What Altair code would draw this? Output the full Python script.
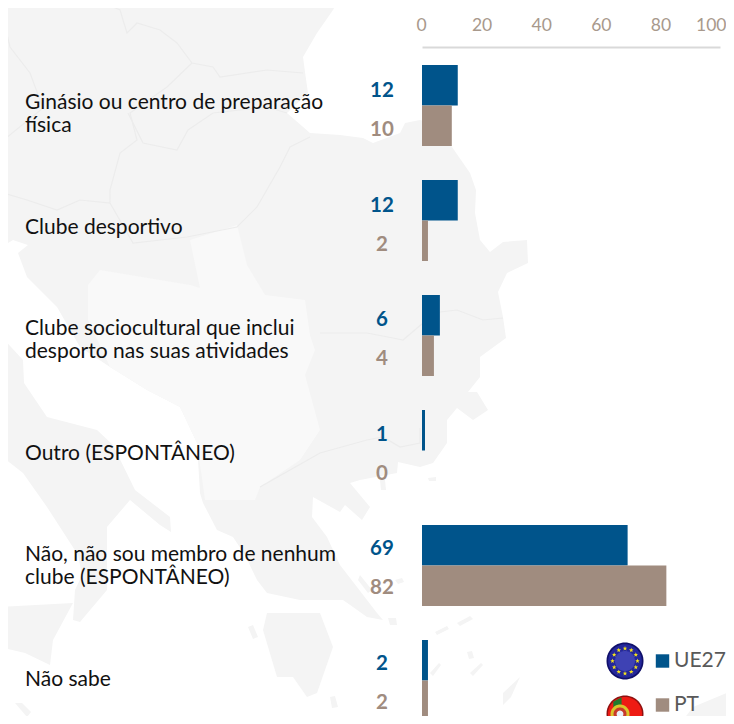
import math
import altair as alt

categories = ["Ginásio ou centro de preparação física", "Clube desportivo",
              "Clube sociocultural que inclui desporto nas suas atividades",
              "Outro (ESPONTÂNEO)", "Não, não sou membro de nenhum clube (ESPONTÂNEO)", "Não sabe"]
label_lines = [["Ginásio ou centro de preparação", "física"], ["Clube desportivo"],
               ["Clube sociocultural que inclui", "desporto nas suas atividades"],
               ["Outro (ESPONTÂNEO)"], ["Não, não sou membro de nenhum", "clube (ESPONTÂNEO)"], ["Não sabe"]]
ue27 = [12, 12, 6, 1, 69, 2]
pt = [10, 2, 4, 0, 82, 2]
series = ["UE27", "PT"]
ticks = [0, 20, 40, 60, 80, 100]

BLUE, TAUPE = "#00548B", "#A08C7F"

# decorative map, reference-page coordinates
land = [(0,0),(338,0),(333,10),(317,33),(303,57),(305,72),(308,93),(287,113),(310,133),(340,135),(363,138),(373,143),
        (400,133),(405,123),(420,120),(440,125),(452,147),(470,173),(476,190),(475,213),(480,240),(490,252),(503,242),
        (527,240),(528,263),(507,273),(498,292),(503,317),(506,338),(480,357),(480,377),(468,392),(477,392),(488,410),
        (473,420),(457,408),(447,420),(447,443),(433,463),(420,467),(398,462),(397,473),(360,480),(350,483),(370,507),
        (362,520),(345,505),(340,512),(313,497),(312,517),(327,537),(340,565),(357,587),(377,613),(383,620),(367,617),
        (353,607),(343,600),(300,600),(267,593),(257,580),(245,555),(233,537),(217,530),(203,503),(200,493),(197,443),
        (180,407),(147,390),(110,367),(80,347),(57,307),(27,277),(18,253),(28,245),(13,240),(0,248)]
italy = [(0,335),(23,360),(24,383),(47,417),(97,430),(113,445),(135,490),(170,517),(171,532),(160,525),(130,500),
         (107,527),(107,540),(107,590),(80,622),(73,620),(75,590),(82,575),(78,555),(47,507),(23,473),(0,455)]
sicily = [(0,607),(73,603),(53,640),(50,665),(25,653),(0,647)]
peloponnese = [(267,613),(320,613),(333,647),(317,693),(307,697),(293,677),(277,677),(263,630)]
anatolia = [(680,724),(693,707),(734,690),(734,724)]
islands = [[(248,627),(253,625),(258,637),(253,639)], [(15,703),(22,703),(31,712),(27,717)],
           [(330,697),(335,696),(338,707),(332,708)], [(520,677),(503,693),(503,705),(511,697)],
           [(457,623),(470,616),(473,619),(460,626)], [(435,632),(447,626),(449,629),(437,635)],
           [(430,673),(439,663),(441,665),(433,676)], [(470,673),(481,663),(483,665),(473,676)],
           [(467,652),(472,651),(474,658),(469,659)], [(388,618),(396,618),(397,625),(390,625)],
           [(380,480),(385,480),(386,490),(381,490)], [(428,478),(436,477),(436,481),(429,481)],
           [(395,580),(402,578),(404,582),(398,584)], [(360,575),(372,590),(368,593),(358,580)]]
light_states = [(190,240),(237,225),(247,265),(265,295),(305,300),(310,335),(315,350),(305,375),(320,430),(300,460),
                (260,487),(255,500),(205,500),(197,443),(180,407),(147,390),(110,367),(88,320),(88,285),(100,270),
                (190,285),(200,288)]
borders = [[(97,0),(120,10),(127,33),(137,23),(160,30),(177,43),(192,63),(213,67),(220,77),(267,70),(303,73)],
           [(192,63),(167,87),(130,113),(137,140),(120,153),(110,190),(110,203),(80,200),(57,210),(27,200),(0,192)],
           [(128,113),(143,143),(177,150),(188,130),(213,113),(267,107),(287,113)],
           [(310,137),(290,147),(280,167),(257,207),(237,227),(187,237),(133,243),(110,203)],
           [(320,333),(367,333),(393,338),(403,340),(423,323),(440,312),(457,310),(483,320),(503,318)],
           [(260,487),(320,453),(367,440),(383,437),(400,447),(420,443),(420,428)],
           [(3,17),(10,47),(30,73),(43,108),(0,143)]]


def ring(cx, cy, r, a0=0.0, a1=2 * math.pi, n=60):
    return [(cx + r * math.cos(a0 + (a1 - a0) * i / n), cy + r * math.sin(a0 + (a1 - a0) * i / n)) for i in range(n + 1)]


def star(cx, cy, r):
    return [(cx + (r if i % 2 == 0 else r * .42) * math.sin(i * math.pi / 5),
             cy - (r if i % 2 == 0 else r * .42) * math.cos(i * math.pi / 5)) for i in range(10)]


def clip_disc(poly, cx, cy, r):
    out = []
    for px, py in poly:
        d = math.hypot(px - cx, py - cy)
        out.append((px, py) if d <= r else (cx + (px - cx) * r / d, cy + (py - cy) * r / d))
    return out


def poly_layer(polys, fill):
    feats = [{"type": "Feature", "properties": {},
              "geometry": {"type": "Polygon", "coordinates": [[list(p) for p in (list(q) + [q[0]])]]}} for q in polys]
    return alt.Chart(alt.Data(values=feats)).mark_geoshape(fill=fill, stroke=None, strokeWidth=0, clip=False).project(
        type="identity", scale=1, translate=[-422, -47])


def line_layer(lines, color):
    feats = [{"type": "Feature", "properties": {},
              "geometry": {"type": "LineString", "coordinates": [list(p) for p in q]}} for q in lines]
    return alt.Chart(alt.Data(values=feats)).mark_geoshape(filled=False, stroke=color, strokeWidth=1.2, clip=False).project(
        type="identity", scale=1, translate=[-422, -47])


rows = [{"cat": c, "series": s, "value": v}
        for c, a, b in zip(categories, ue27, pt) for s, v in (("UE27", a), ("PT", b))]
label_rows = [{"cat": c, "lines": l} for c, l in zip(categories, label_lines)]
data = alt.Data(values=rows)

x = alt.X("value:Q", scale=alt.Scale(domain=[0, 100], nice=False), title=None,
          axis=alt.Axis(orient="top", values=ticks, grid=False, ticks=False, domainColor="#D9D9D9", domainWidth=2,
                        labelColor="#A8998C", labelFont="Lato", labelFontSize=17.5, labelPadding=13, labelFlush=True,
                        labelFlushOffset=6, labelBound=False, labelAngle=0))


def bar_layer(name, color, r0):
    return alt.Chart(data).transform_filter(alt.datum.series == name).mark_bar(color=color).encode(
        x=x,
        y=alt.Y("cat:N", sort=categories, axis=None, title=None,
                scale=alt.Scale(domain=categories, range=[r0, r0 + 615.5], paddingInner=0.6478, paddingOuter=0)),
    )


def value_text(name, color, r0):
    return alt.Chart(data).transform_filter(alt.datum.series == name).mark_text(
        font="Lato", fontSize=20.5, fontWeight="bold", color=color, align="center", baseline="middle", dx=-40
    ).encode(
        x=alt.datum(0),
        y=alt.Y("cat:N", sort=categories, axis=None, title=None,
                scale=alt.Scale(domain=categories, range=[r0, r0 + 687.6], paddingInner=0, paddingOuter=0)),
        text=alt.Text("value:Q"),
    )


def cat_text(test, dy):
    return alt.Chart(alt.Data(values=label_rows)).transform_filter(test).mark_text(
        font="Lato", fontSize=21, color="#111111", align="left", baseline="middle", dx=-397, dy=dy, lineHeight=23
    ).encode(
        x=alt.datum(0),
        y=alt.Y("cat:N", sort=categories, axis=None, title=None,
                scale=alt.Scale(domain=categories, range=[9.5, 687.5], paddingInner=0, paddingOuter=0)),
        text=alt.Text("lines:N"),
    )


def legend_text(label, px, py):
    return alt.Chart(alt.Data(values=[{"label": label}])).mark_text(
        font="Lato", fontSize=21, color="#595959", align="left", baseline="middle"
    ).encode(x=alt.value(px), y=alt.value(py), text=alt.Text("label:N"))


def legend_square(color, px, py):
    return alt.Chart(alt.Data(values=[{"label": color}])).mark_square(size=180, color=color, opacity=1).encode(
        x=alt.value(px), y=alt.value(py))


eu_c, pt_c = (625, 661), (625, 714)
flag_layers = [
    poly_layer([ring(*eu_c, 18.5)], "#10106A"),
    poly_layer([ring(*eu_c, 16.8)], "#24279B"),
    poly_layer([ring(*eu_c, 10)], "#3E42B4"),
    poly_layer([star(eu_c[0] + 12.5 * math.cos(i * math.pi / 6), eu_c[1] + 12.5 * math.sin(i * math.pi / 6), 2.4)
                for i in range(12)], "#F4E21E"),
    poly_layer([ring(*pt_c, 18.5)], "#8E1010"),
    poly_layer([ring(*pt_c, 17)], "#EE1B14"),
    poly_layer([clip_disc([(620, 690), (602, 690), (602, 740), (620, 740)], *pt_c, 17)], "#1F7A2E"),
    poly_layer([ring(620, 714, 9.5)], "#D9C52B"),
    poly_layer([ring(620, 714, 6.5)], "#C83A2A"),
    poly_layer([ring(620, 714, 3.4)], "#E8EEF5"),
]

chart = alt.layer(
    poly_layer([land, italy, sicily, peloponnese, anatolia] + islands, "#F4F4F4"),
    poly_layer([light_states], "#F9F9F9"),
    line_layer(borders, "#ECECEC"),
    bar_layer("UE27", BLUE, 18),
    bar_layer("PT", TAUPE, 58.5),
    value_text("UE27", BLUE, -13.3),
    value_text("PT", TAUPE, 25.7),
    cat_text("datum.lines.length > 1", -10.5),
    cat_text("datum.lines.length == 1", 2),
    *flag_layers,
    legend_square(BLUE, 240.5, 614),
    legend_square(TAUPE, 240.5, 658),
    legend_text("UE27", 252, 614),
    legend_text("PT", 252, 658),
).resolve_scale(y="independent").properties(
    width=298, height=669, padding={"left": 414, "top": 39, "right": 6, "bottom": 0}, autosize="none",
    background="white",
).configure_view(stroke=None)

chart.save("out.html", embed_options={"renderer": "svg", "actions": False})
